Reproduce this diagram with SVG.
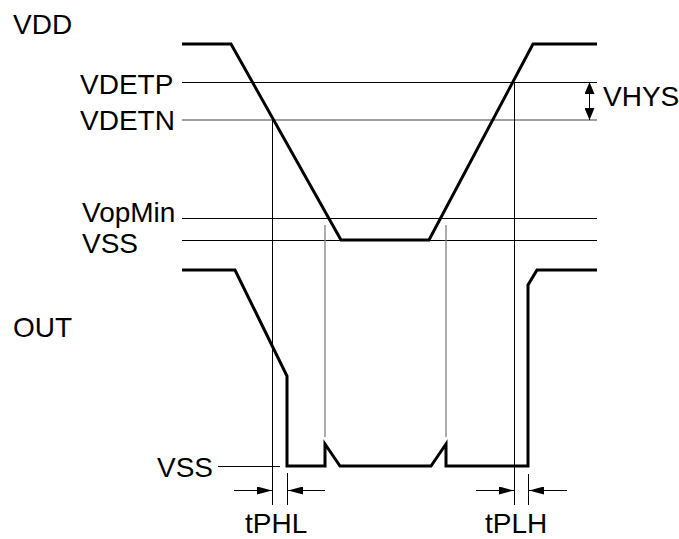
<svg xmlns="http://www.w3.org/2000/svg" width="679" height="539" viewBox="0 0 679 539">
<style>
text{font-family:"Liberation Sans",Arial,sans-serif;font-size:28px;fill:#000}
.thin{stroke:#000;stroke-width:1;fill:none}
.gray{stroke:#808080;stroke-width:1.3;fill:none}
.wave{stroke:#000;stroke-width:3;fill:none;stroke-linejoin:miter}
</style>
<defs>
<marker id="ah" viewBox="0 0 15 8" refX="15" refY="4" markerWidth="15" markerHeight="8" markerUnits="userSpaceOnUse" orient="auto">
<path d="M0,0 L15,4 L0,8 Z" fill="#000"/>
</marker>
<marker id="ahv" viewBox="0 0 12 10" refX="12" refY="5" markerWidth="12" markerHeight="10" markerUnits="userSpaceOnUse" orient="auto">
<path d="M0,0 L12,5 L0,10 Z" fill="#000"/>
</marker>
</defs>
<rect width="679" height="539" fill="#fff"/>
<g id="labels">
<text x="13" y="34">VDD</text>
<text x="80" y="94">VDETP</text>
<text x="80" y="130">VDETN</text>
<text x="82" y="222">VopMin</text>
<text x="82" y="253">VSS</text>
<text x="13" y="337">OUT</text>
<text x="157" y="477">VSS</text>
<text x="245" y="533">tPHL</text>
<text x="485" y="533">tPLH</text>
<text x="603" y="106">VHYS</text>
</g>
<g id="levels">
<line class="thin" x1="182" y1="82.5" x2="597" y2="82.5"/>
<line class="gray" x1="182" y1="120" x2="597" y2="120"/>
<line class="thin" x1="182" y1="218.5" x2="597" y2="218.5" stroke="#222"/>
<line class="thin" x1="182" y1="240.5" x2="597" y2="240.5" stroke="#222"/>
<line class="thin" x1="218" y1="466.5" x2="280" y2="466.5"/>
</g>
<g id="guides">
<line class="thin" x1="272.5" y1="120" x2="272.5" y2="505"/>
<line class="thin" x1="514.5" y1="82" x2="514.5" y2="505"/>
<line class="thin" x1="287.5" y1="473" x2="287.5" y2="505"/>
<line class="thin" x1="528.5" y1="474" x2="528.5" y2="505"/>
<line class="gray" x1="325" y1="225" x2="325" y2="437"/>
<line class="gray" x1="446" y1="225" x2="446" y2="437"/>
</g>
<g id="waveforms">
<path id="vdd-wave" class="wave" d="M182,44 H231 L341,240 H429 L533,44 H597"/>
<path id="out-wave" class="wave" d="M182,270 H235 L287,376 V466 H325 V444 L340,466 H431 L446,444 V466 H528 V285 L537,270 H597"/>
</g>
<g id="connectors">
<line class="thin" x1="234" y1="490.5" x2="272" y2="490.5" marker-end="url(#ah)"/>
<line class="thin" x1="325" y1="490.5" x2="288" y2="490.5" marker-end="url(#ah)"/>
<line class="thin" x1="476" y1="490.5" x2="514" y2="490.5" marker-end="url(#ah)"/>
<line class="thin" x1="567" y1="490.5" x2="529" y2="490.5" marker-end="url(#ah)"/>
<line class="thin" x1="589.5" y1="101" x2="589.5" y2="82" marker-end="url(#ahv)"/>
<line class="thin" x1="589.5" y1="101" x2="589.5" y2="120" marker-end="url(#ahv)"/>
</g>
</svg>
